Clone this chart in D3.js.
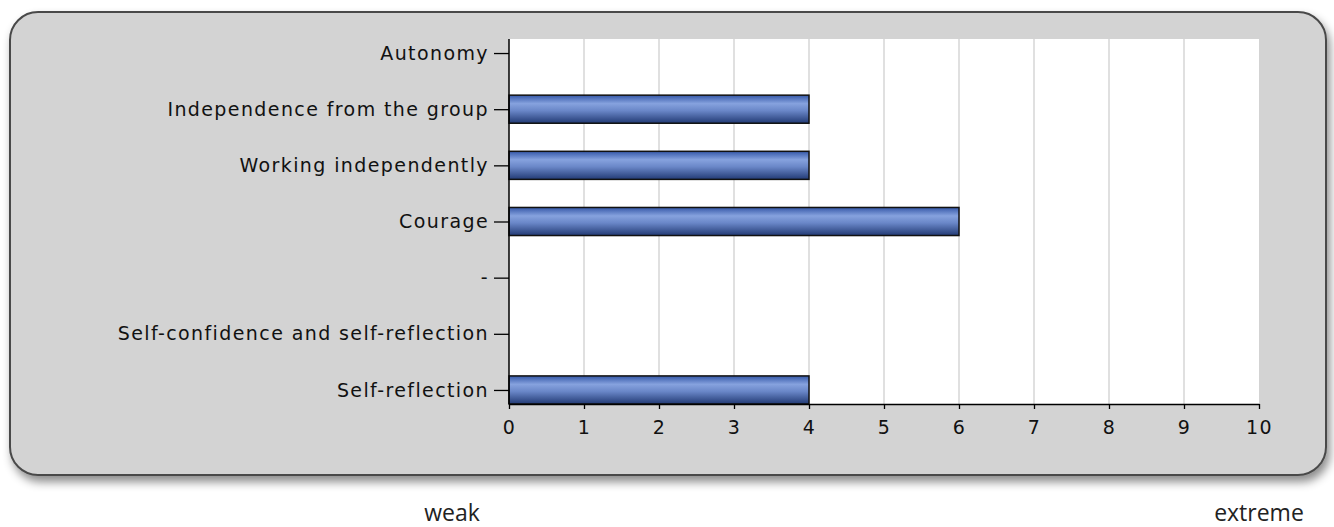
<!DOCTYPE html>
<html>
<head>
<meta charset="utf-8">
<script src="https://cdn.jsdelivr.net/npm/d3@7"></script>
<style>
  html, body { margin: 0; padding: 0; background: #ffffff; }
  svg { display: block; }
</style>
</head>
<body>
<svg id="chart" width="1334" height="527"></svg>
<script>
// Category labels, top to bottom
const categories = [
  "Autonomy",
  "Independence from the group",
  "Working independently",
  "Courage",
  "-",
  "Self-confidence and self-reflection",
  "Self-reflection"
];
// Score per category (null = no bar)
const values = [null, 4, 4, 6, null, null, 4];
// Value axis ticks
const xTicks = [0, 1, 2, 3, 4, 5, 6, 7, 8, 9, 10];
// Scale end captions
const scaleCaptions = ["weak", "extreme"];

const svg = d3.select("#chart");
const plot = { left: 509, right: 1259, top: 39, bottom: 404 };

const defs = svg.append("defs");
const shadow = defs.append("filter").attr("id", "panelShadow")
  .attr("x", "-5%").attr("y", "-5%").attr("width", "115%").attr("height", "125%");
shadow.append("feDropShadow").attr("dx", 3).attr("dy", 6)
  .attr("stdDeviation", 5).attr("flood-color", "#000").attr("flood-opacity", 0.45);

const grad = defs.append("linearGradient").attr("id", "barFill")
  .attr("x1", 0).attr("y1", 0).attr("x2", 0).attr("y2", 1);
[["0%", "#3558a8"], ["30%", "#86a2de"], ["55%", "#6a87c8"], ["100%", "#223a74"]]
  .forEach(([o, c]) => grad.append("stop").attr("offset", o).attr("stop-color", c));

// Rounded panel behind the chart
svg.append("rect")
  .attr("x", 10).attr("y", 12).attr("width", 1316).attr("height", 463)
  .attr("rx", 28).attr("ry", 28)
  .attr("fill", "#d3d3d3").attr("stroke", "#4a4a4a").attr("stroke-width", 2)
  .attr("filter", "url(#panelShadow)");

const x = d3.scaleLinear().domain([0, 10]).range([plot.left, plot.right]);
const y = d3.scalePoint().domain(categories).range([plot.top, plot.bottom]).padding(0.25);
const barH = y.step() * 0.5;

// Plot background
svg.append("rect")
  .attr("x", plot.left).attr("y", plot.top)
  .attr("width", plot.right - plot.left).attr("height", plot.bottom - plot.top)
  .attr("fill", "#ffffff");

// Vertical gridlines
svg.append("g").selectAll("line")
  .data(xTicks.filter(t => t > 0 && t < 10))
  .join("line")
  .attr("x1", d => x(d)).attr("x2", d => x(d))
  .attr("y1", plot.top).attr("y2", plot.bottom)
  .attr("stroke", "#d6d6d6").attr("stroke-width", 1.5);

// Bars
svg.append("g").selectAll("rect")
  .data(categories.map((c, i) => ({ c, v: values[i] })).filter(d => d.v != null))
  .join("rect")
  .attr("x", x(0))
  .attr("y", d => y(d.c) - barH / 2)
  .attr("width", d => x(d.v) - x(0))
  .attr("height", barH)
  .attr("fill", "url(#barFill)")
  .attr("stroke", "#111").attr("stroke-width", 1.5);

const labelFont = "'DejaVu Sans', sans-serif";

// Category axis
const yAxis = svg.append("g")
  .attr("transform", `translate(${plot.left},0)`)
  .call(d3.axisLeft(y).tickSize(15).tickPadding(5).tickSizeOuter(0));
yAxis.select(".domain").attr("stroke", "#000").attr("stroke-width", 1.5)
  .attr("d", `M0,${plot.top}V${plot.bottom}`);
yAxis.selectAll(".tick line").attr("stroke", "#000").attr("stroke-width", 1.3);
yAxis.selectAll(".tick text")
  .attr("font-family", labelFont).attr("font-size", 19)
  .attr("letter-spacing", "1.4px").attr("fill", "#111");

// Value axis
const xAxis = svg.append("g")
  .attr("transform", `translate(0,${plot.bottom})`)
  .call(d3.axisBottom(x).tickValues(xTicks).tickFormat(d3.format("d"))
    .tickSize(5).tickPadding(12).tickSizeOuter(0));
xAxis.select(".domain").attr("stroke", "#000").attr("stroke-width", 1.5);
xAxis.selectAll(".tick line").attr("stroke", "#000").attr("stroke-width", 1.3);
xAxis.selectAll(".tick text")
  .attr("font-family", labelFont).attr("font-size", 19)
  .attr("letter-spacing", "1.4px").attr("fill", "#111");

// Scale captions under the panel
svg.append("g").selectAll("text")
  .data(scaleCaptions)
  .join("text")
  .attr("x", (d, i) => i === 0 ? 452 : 1259)
  .attr("y", 521)
  .attr("text-anchor", "middle")
  .attr("font-family", "'Open Sans', sans-serif")
  .attr("font-size", 23)
  .attr("fill", "#222")
  .text(d => d);
</script>
</body>
</html>
